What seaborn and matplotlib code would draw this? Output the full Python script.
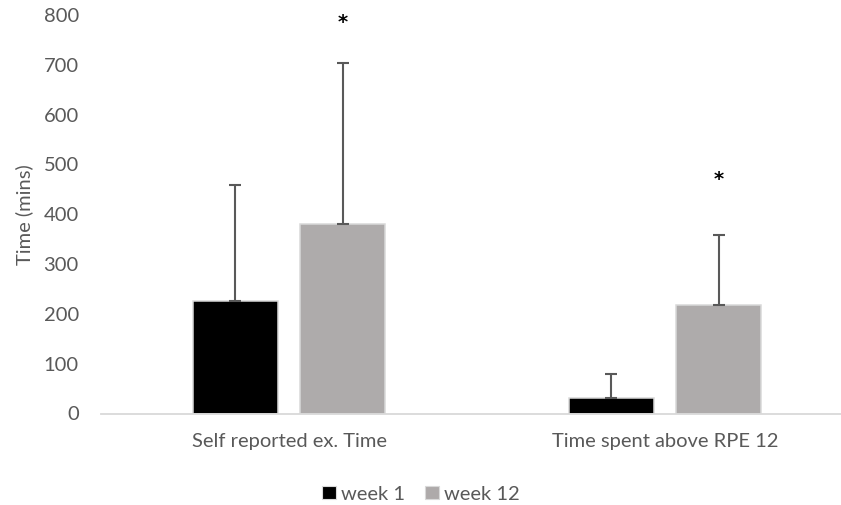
import matplotlib
matplotlib.use("Agg")
import matplotlib.pyplot as plt
import seaborn as sns
import pandas as pd
import numpy as np
from matplotlib.patches import Patch

# Summary values: mean and SD for each measure at week 1 and week 12
categories = ["Self reported ex. Time", "Time spent above RPE 12"]
groups = ["week 1", "week 12"]
week1_mean = [225, 31]
week1_sd = [233, 49]
week12_mean = [381, 218]
week12_sd = [322, 141]
y_ticks = [0, 100, 200, 300, 400, 500, 600, 700, 800]

colors = {"week 1": "#000000", "week 12": "#AEAAAA"}
text_grey = "#595959"
font_size = 14.5

df = pd.DataFrame({
    "category": categories * 2,
    "group": [groups[0]] * 2 + [groups[1]] * 2,
    "mean": week1_mean + week12_mean,
    "sd": week1_sd + week12_sd,
})

sns.set_theme(style="white")
plt.rcParams["font.family"] = ["Lato", "DejaVu Sans"]

fig = plt.figure(figsize=(8.41, 5.05), dpi=100)
ax = fig.add_axes([101 / 841, (505 - 413.5) / 505, (841 - 101) / 841, (413.5 - 15) / 505])

sns.barplot(data=df, x="category", y="mean", hue="group", order=categories,
            hue_order=groups, palette=colors, errorbar=None, width=0.57,
            gap=0.2, ax=ax, legend=False, zorder=3,
            edgecolor="#D9D9D9", linewidth=1.1)

# Upward-only SD error bars, centered on each bar
for patch_group, g in zip([ax.patches[:2], ax.patches[2:4]], groups):
    sub = df[df["group"] == g]
    xs = [p.get_x() + p.get_width() / 2 for p in patch_group]
    ax.errorbar(xs, sub["mean"], yerr=[np.zeros(len(sub)), sub["sd"]],
                fmt="none", ecolor=text_grey, elinewidth=1.5, capsize=4,
                capthick=1.5, zorder=4)

# Significance markers above the week 12 bars
week12_patches = ax.patches[2:4]
for p, y in zip(week12_patches, [785, 470]):
    ax.text(p.get_x() + p.get_width() / 2, y, "*", ha="center", va="center",
            fontsize=14, fontweight="bold", color="black", family="DejaVu Sans")

ax.set_ylim(0, 800)
ax.set_xlim(-0.5, 1.5 - 12 / 376)
ax.set_yticks(y_ticks)
ax.set_yticklabels([str(t) for t in y_ticks])
ax.tick_params(axis="y", length=0, pad=16, labelsize=font_size, labelcolor=text_grey)
ax.tick_params(axis="x", length=0, pad=14, labelsize=font_size, labelcolor=text_grey)
ax.set_xlabel("")
ax.set_ylabel("Time (mins)", fontsize=font_size, color=text_grey)
ax.yaxis.set_label_coords(-0.092, 0.5)

for s in ["top", "right", "left"]:
    ax.spines[s].set_visible(False)
ax.spines["bottom"].set_color("#D9D9D9")
ax.spines["bottom"].set_linewidth(1.3)
ax.spines["bottom"].set_zorder(5)
ax.grid(False)

handles = [Patch(facecolor=colors[g], edgecolor="#D9D9D9", linewidth=0.8) for g in groups]
fig.legend(handles, groups, loc="center", bbox_to_anchor=(421 / 841, 1 - 494 / 505),
           ncol=2, frameon=False, fontsize=font_size, labelcolor=text_grey,
           handlelength=0.68, handleheight=0.68, handletextpad=0.25,
           columnspacing=1.0, borderpad=0.1)

fig.savefig("out.png", dpi=100)
